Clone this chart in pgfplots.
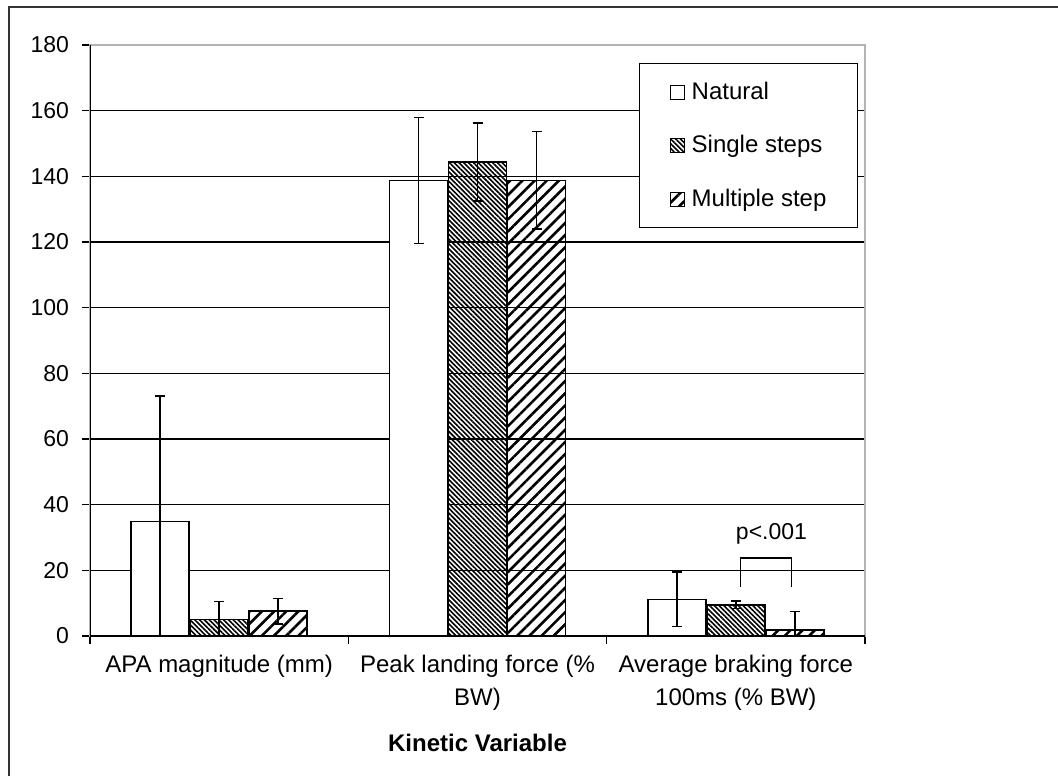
\documentclass[border=0pt]{standalone}
\usepackage{fontspec}
\setmainfont{Liberation Sans}
\usepackage{pgfplots}
\pgfplotsset{compat=1.18}
\usetikzlibrary{patterns.meta}

\begin{document}
\begin{tikzpicture}
\path[use as bounding box] (0,0) rectangle (529pt,388pt);
\draw[line width=0.8pt, black!80] (4.5pt,0) -- (4.5pt,384.5pt) -- (529pt,384.5pt);
\begin{axis}[
  at={(45pt,70pt)}, anchor=south west,
  width=387.5pt, height=295.5pt, scale only axis,
  ybar, bar width=29pt,
  xmin=-0.5, xmax=2.5, ymin=0, ymax=180,
  ytick={0,20,...,180},
  xtick={-0.5,0.5,1.5,2.5},
  xticklabels={},
  xtick pos=bottom, ytick pos=left,
  extra x ticks={0,1,2},
  extra x tick labels={{APA magnitude (mm)},{Peak landing force (\%\\BW)},{Average braking force\\100ms (\% BW)}},
  extra x tick style={major tick length=0pt, tick label style={align=center, font=\fontsize{12}{16.5}\selectfont, yshift=-6pt}},
  tick align=outside, major tick length=4pt,
  tick style={black, line width=0.6pt},
  /pgf/number format/assume math mode=true,
  yticklabel style={font=\fontsize{11.5}{14}\selectfont, xshift=-3pt},
  ymajorgrids, major grid style={black, line width=0.6pt},
  axis line style={draw=gray!60, line width=0.6pt},
  xlabel={Kinetic Variable},
  xlabel style={font=\bfseries\fontsize{12}{14}\selectfont, at={(axis description cs:0.5,0)}, anchor=center, yshift=-53.5pt},
  legend image code/.code={\draw[#1, line width=0.5pt] (1.5pt,-3.5pt) rectangle (8.5pt,3.5pt); \path (0pt,0pt) (10pt,0pt);},
  legend cell align=left,
  legend style={at={(rel axis cs:0.708,0.9695)}, anchor=north west, draw=black, line width=0.6pt, fill=white,
    font=\fontsize{12}{14}\selectfont, inner xsep=13.5pt, inner ysep=7.25pt, row sep=12.5pt},
  error bars/error bar style={black, line width=0.7pt},
  error bars/error mark options={rotate=90, mark size=2.5pt, line width=0.7pt, black},
]
\addplot[draw=black, fill=white, line width=0.7pt, bar shift=-29.5pt,
  error bars/.cd, y dir=both, y explicit]
  coordinates {(0,34.9) +- (0,38.2) (1,138.8) +- (0,19.2) (2,11.2) +- (0,8.3)};
\addplot[draw=black, line width=0.7pt, bar shift=0pt,
  pattern={Lines[angle=-45, distance=1.7pt, line width=0.8pt]},
  error bars/.cd, y dir=both, y explicit]
  coordinates {(0,5.0) +- (0,5.6) (1,144.4) +- (0,11.9) (2,9.5) +- (0,1.2)};
\addplot[draw=black, line width=0.7pt, bar shift=29.5pt,
  pattern={Lines[angle=45, distance=4.3pt, line width=1.3pt]},
  error bars/.cd, y dir=both, y explicit]
  coordinates {(0,7.6) +- (0,3.9) (1,138.8) +- (0,14.9) (2,1.8) +- (0,5.6)};
\legend{Natural, Single steps, Multiple step}
\draw[black, line width=0.7pt] (rel axis cs:0,0) -- (rel axis cs:0,1);
\draw[black, line width=0.7pt] (rel axis cs:0,0) -- (rel axis cs:1,0);
\draw[black, line width=0.7pt] (axis cs:2.017,15) -- (axis cs:2.017,23.8) -- (axis cs:2.215,23.8) -- (axis cs:2.215,15);
\node[font=\fontsize{11.5}{14}\selectfont] at (axis cs:2.138,31) {p<.001};
\end{axis}
\end{tikzpicture}
\end{document}
